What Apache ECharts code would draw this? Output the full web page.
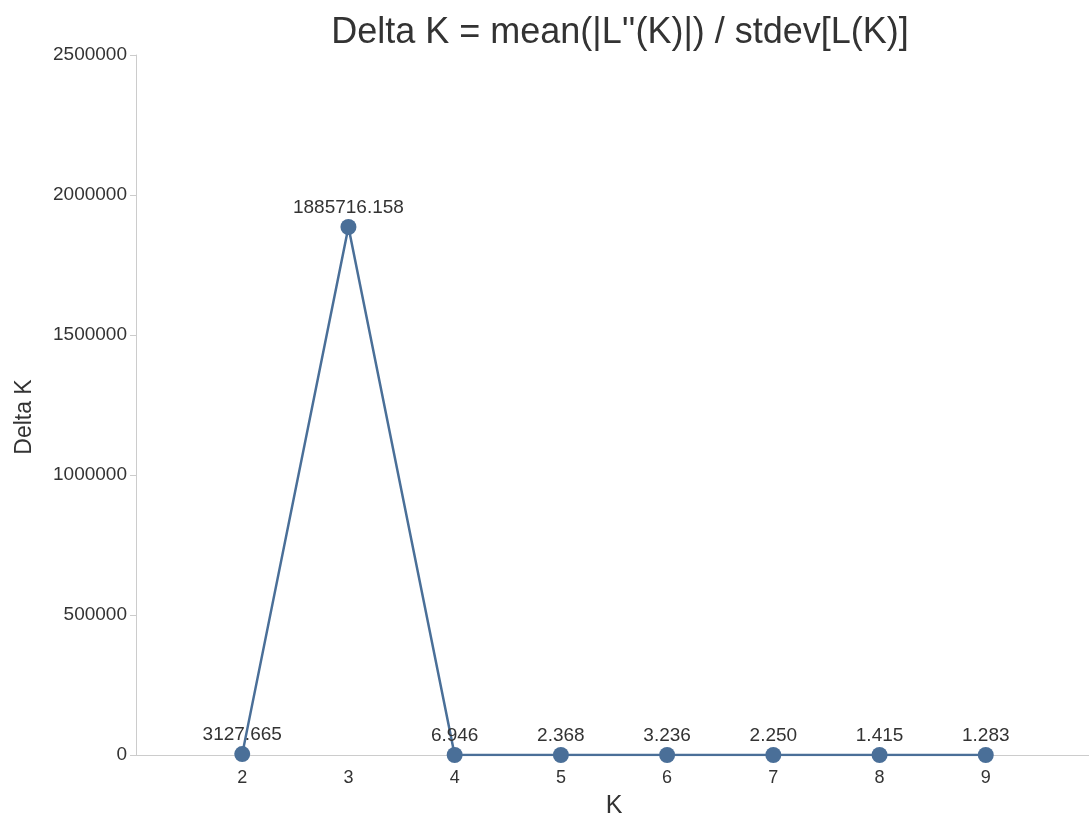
<!DOCTYPE html>
<html>
<head>
<meta charset="utf-8">
<script src="https://cdn.jsdelivr.net/npm/echarts@6/dist/echarts.min.js"></script>
<style>html,body{margin:0;padding:0;background:#fff}#c{width:1089px;height:821px}</style>
</head>
<body>
<div id="c"></div>
<script>
var kValues = [2, 3, 4, 5, 6, 7, 8, 9];
var deltaK = [3127.665, 1885716.158, 6.946, 2.368, 3.236, 2.250, 1.415, 1.283];
var yTicks = [0, 500000, 1000000, 1500000, 2000000, 2500000];
var titleText = "Delta K = mean(|L''(K)|) / stdev[L(K)]";

var chart = echarts.init(document.getElementById('c'));
var pts = kValues.map(function (k, i) { return [k, deltaK[i]]; });
var font = 'Liberation Sans, Arial, sans-serif';
chart.setOption({
  animation: false,
  textStyle: { fontFamily: font },
  title: {
    text: titleText, left: 615, top: 10, textAlign: 'center',
    textStyle: { fontSize: 36, fontWeight: 'normal', color: '#333', fontFamily: font }
  },
  grid: { left: 136, right: -3, top: 55, bottom: 66, containLabel: false, outerBoundsMode: 'none' },
  xAxis: {
    type: 'value', min: 1, max: 10, interval: 1,
    name: 'K', nameLocation: 'middle', nameGap: 39,
    nameTextStyle: { fontSize: 25, color: '#333', fontFamily: font },
    axisLine: { show: true, lineStyle: { color: '#ccc', width: 1 } },
    axisTick: { show: false },
    splitLine: { show: false },
    axisLabel: {
      fontSize: 18, color: '#333', margin: 14,
      formatter: function (v) { return kValues.indexOf(v) >= 0 ? String(v) : ''; }
    }
  },
  yAxis: {
    type: 'value', min: yTicks[0], max: yTicks[yTicks.length - 1], interval: 500000,
    name: 'Delta K', nameLocation: 'middle', nameGap: 100, nameRotate: 90,
    nameTextStyle: { fontSize: 23, color: '#333', fontFamily: font, padding: [0, 24, 0, 0] },
    axisLine: { show: true, lineStyle: { color: '#ccc', width: 1 } },
    axisTick: { show: true, length: 6, lineStyle: { color: '#ccc' } },
    splitLine: { show: false },
    axisLabel: {
      fontSize: 19, color: '#333', margin: 9,
      formatter: function (v) { return String(v); }
    }
  },
  series: [{
    type: 'line', data: pts,
    symbol: 'circle', symbolSize: 16,
    itemStyle: { color: '#4a6f98' },
    lineStyle: { color: '#4a6f98', width: 2.5 },
    label: {
      show: true, position: 'top', distance: 2,
      fontSize: 19, color: '#333',
      formatter: function (p) { return p.value[1].toFixed(3); }
    }
  }]
});
</script>
</body>
</html>
